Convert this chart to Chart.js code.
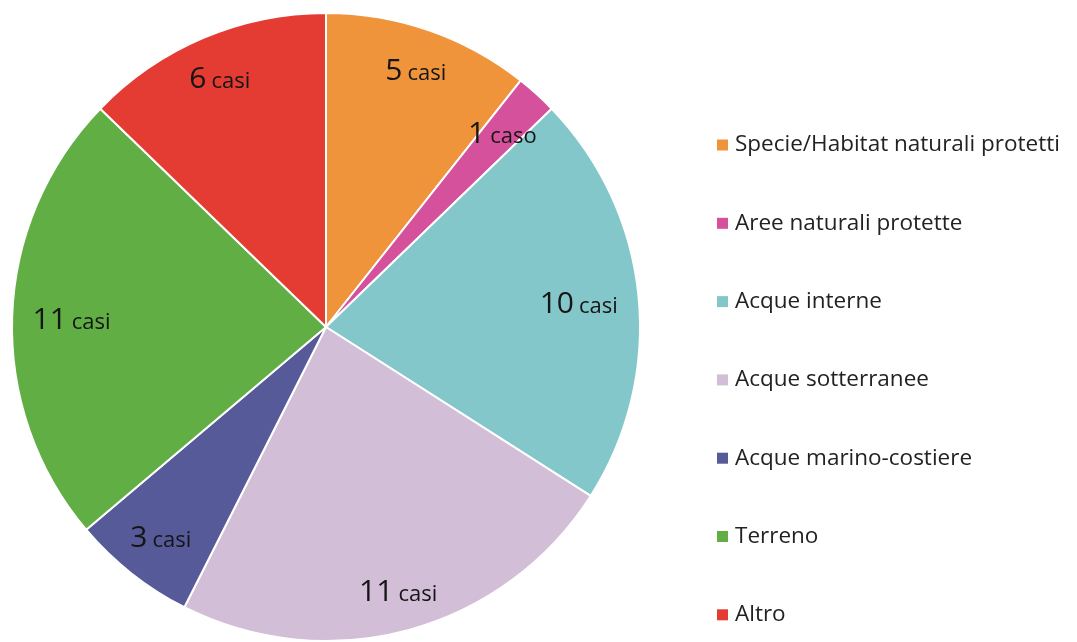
<!DOCTYPE html>
<html>
<head>
<meta charset="utf-8">
<script src="https://cdn.jsdelivr.net/npm/chart.js@4/dist/chart.umd.min.js"></script>
<style>
  html, body { margin: 0; padding: 0; background: #fff; }
  #wrap { width: 1077px; height: 642px; position: relative; }
</style>
</head>
<body>
<div id="wrap"><canvas id="pie"></canvas></div>
<script>
// categories and values
const categories = [
  'Specie/Habitat naturali protetti',
  'Aree naturali protette',
  'Acque interne',
  'Acque sotterranee',
  'Acque marino-costiere',
  'Terreno',
  'Altro'
];
const cases = [5, 1, 10, 11, 3, 11, 6];
const colors = ['#F0943B', '#D5519B', '#84C7CB', '#D2BED6', '#565A98', '#61AE44', '#E43B32'];

const FONT = '"Open Sans", "Liberation Sans", sans-serif';

// "5 casi" labels, placed inside the outer edge like Excel's "inside end"
const sliceLabels = {
  id: 'sliceLabels',
  afterDatasetsDraw(chart) {
    const ctx = chart.ctx;
    const meta = chart.getDatasetMeta(0);
    ctx.save();
    ctx.fillStyle = '#151515';
    ctx.textBaseline = 'alphabetic';
    ctx.textAlign = 'left';
    meta.data.forEach((arc, i) => {
      const num = String(cases[i]);
      const word = cases[i] === 1 ? 'caso' : 'casi';
      ctx.font = '30px ' + FONT;
      const wNum = ctx.measureText(num).width;
      ctx.font = '22px ' + FONT;
      const wWord = ctx.measureText(word).width;
      const gap = 5;
      const w = wNum + gap + wWord;
      const h = 22;
      const mid = (arc.startAngle + arc.endAngle) / 2;
      const dx = Math.cos(mid), dy = Math.sin(mid);
      const half = Math.abs(dx) * w / 2 + Math.abs(dy) * h / 2;
      const r = arc.outerRadius - 20 - half;
      const cx = arc.x + dx * r;
      const cy = arc.y + dy * r;
      const x0 = cx - w / 2;
      const base = cy + h / 2;
      ctx.font = '30px ' + FONT;
      ctx.fillText(num, x0, base);
      ctx.font = '22px ' + FONT;
      ctx.fillText(word, x0 + wNum + gap, base);
    });
    ctx.restore();
  }
};

// legend drawn in the reserved right-hand area
const sideLegend = {
  id: 'sideLegend',
  afterDraw(chart) {
    const ctx = chart.ctx;
    ctx.save();
    ctx.font = '22.5px ' + FONT;
    ctx.textBaseline = 'middle';
    ctx.textAlign = 'left';
    categories.forEach((name, i) => {
      const y = 145 + i * 78.3;
      ctx.fillStyle = colors[i];
      ctx.fillRect(717, y - 5.5, 11, 11);
      ctx.fillStyle = '#222';
      ctx.fillText(name, 735, y);
    });
    ctx.restore();
  }
};

new Chart(document.getElementById('pie'), {
  type: 'pie',
  data: {
    labels: categories,
    datasets: [{
      data: cases,
      backgroundColor: colors,
      borderColor: '#fff',
      borderWidth: 2
    }]
  },
  options: {
    responsive: true,
    maintainAspectRatio: false,
    animation: false,
    layout: { padding: { top: 12, bottom: 0, left: 0, right: 425 } },
    plugins: {
      legend: { display: false },
      tooltip: { enabled: false }
    }
  },
  plugins: [sliceLabels, sideLegend]
});
</script>
</body>
</html>
